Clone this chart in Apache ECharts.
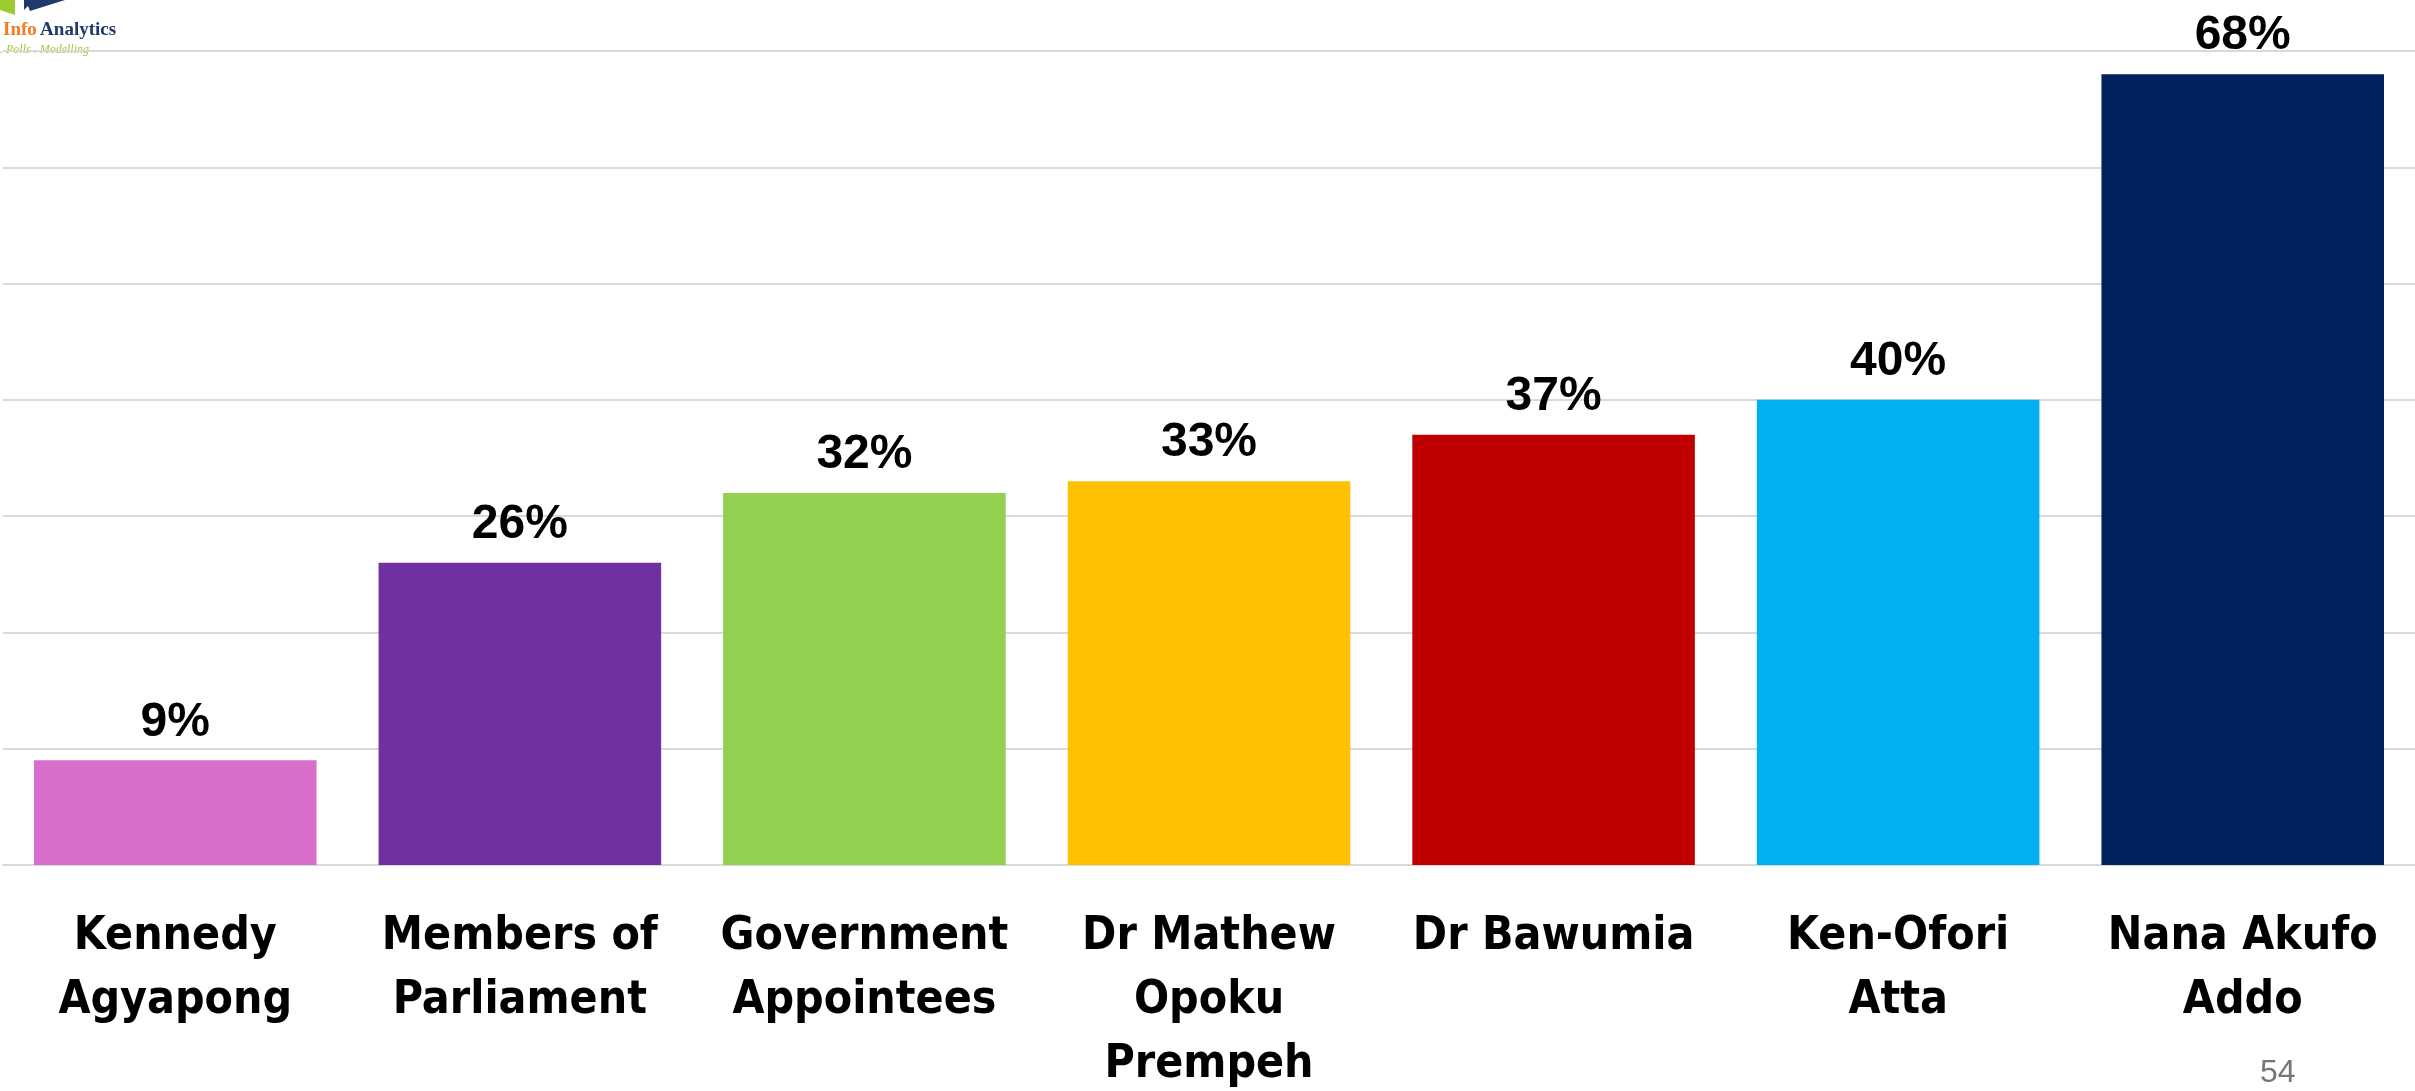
<!DOCTYPE html>
<html>
<head>
<meta charset="utf-8">
<style>
  html, body { margin: 0; padding: 0; background: #fff; }
  #chart { width: 2415px; height: 1091px; }
</style>
<script src="https://cdn.jsdelivr.net/npm/echarts@6/dist/echarts.min.js"></script>
</head>
<body>
<div id="chart"></div>
<script>
// categories (tick labels, wrapped as on the slide)
const categories = [
  'Kennedy\nAgyapong',
  'Members of\nParliament',
  'Government\nAppointees',
  'Dr Mathew\nOpoku\nPrempeh',
  'Dr Bawumia',
  'Ken-Ofori\nAtta',
  'Nana Akufo\nAddo'
]
// percent values
const values = [9, 26, 32, 33, 37, 40, 68]
const barColors = ['#D76FCA', '#7030A0', '#92D050', '#FFC000', '#C00000', '#00B0F0', '#002060']

const chart = echarts.init(document.getElementById('chart'))
const option = {
  backgroundColor: '#fff',
  animation: false,
  grid: {
    left: 3,
    right: 0,
    top: 51,
    bottom: 226,
    containLabel: false,
    outerBoundsMode: 'none'
  },
  xAxis: {
    type: 'category',
    data: categories,
    axisTick: { show: false },
    axisLine: { show: true, lineStyle: { color: '#d9d9d9', width: 2 } },
    axisLabel: {
      interval: 0,
      margin: 40,
      color: '#000',
      fontFamily: '"Liberation Sans Narrow", "DejaVu Sans Condensed", sans-serif',
      fontWeight: 'bold',
      fontSize: 46,
      lineHeight: 64
    }
  },
  yAxis: {
    type: 'value',
    min: 0,
    max: 70,
    interval: 10,
    axisLabel: { show: false },
    axisLine: { show: false },
    axisTick: { show: false },
    splitLine: { show: true, lineStyle: { color: '#d9d9d9', width: 2 } }
  },
  series: [
    {
      type: 'bar',
      data: values,
      barCategoryGap: '18%',
      itemStyle: {
        color: p => barColors[p.dataIndex]
      },
      label: {
        show: true,
        position: 'top',
        distance: 14,
        formatter: '{c}%',
        color: '#000',
        fontFamily: '"Liberation Sans", Arial, sans-serif',
        fontWeight: 'bold',
        fontSize: 48
      }
    }
  ],
  graphic: [
    // logo mark (cut off at top edge)
    { type: 'polygon', shape: { points: [[0, 0], [15, 0], [15, 15], [0, 10]] }, style: { fill: '#9ACD32' } },
    { type: 'polygon', shape: { points: [[24, 0], [65, 0], [30, 11], [28, 6], [24, 10]] }, style: { fill: '#1F3A6B' } },
    {
      type: 'text', left: 3, top: 21,
      style: {
        rich: {
          o: { fill: '#F47B20', font: 'bold 19px "Liberation Serif", "DejaVu Serif", serif' },
          n: { fill: '#1F3A6B', font: 'bold 19px "Liberation Serif", "DejaVu Serif", serif' }
        },
        text: '{o|Info} {n|Analytics}'
      }
    },
    {
      type: 'text', left: 0, top: 44,
      style: { text: '. Polls . Modelling', fill: '#9ACD32', font: 'italic 12px "Liberation Serif", serif' }
    },
    {
      type: 'text', left: 2260, top: 1057,
      style: { text: '54', fill: '#757575', font: '32px "Liberation Sans", Arial, sans-serif' }
    }
  ]
}
chart.setOption(option)
</script>
</body>
</html>
